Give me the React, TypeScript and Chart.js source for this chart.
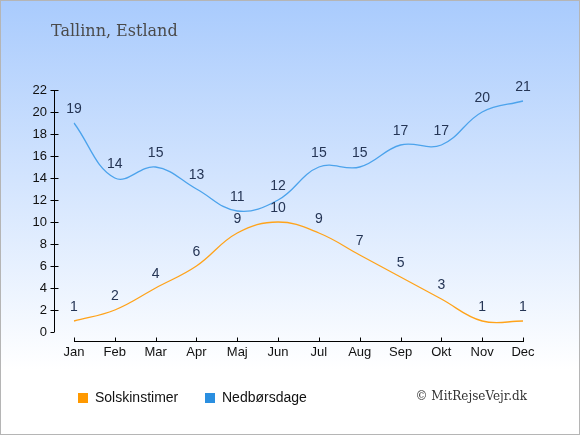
import { useEffect, useRef } from "react"
import { Chart, registerables } from "chart.js"

Chart.register(...registerables)

const months = ["Jan", "Feb", "Mar", "Apr", "Maj", "Jun", "Jul", "Aug", "Sep", "Okt", "Nov", "Dec"]
const sunHours = [1, 2, 4, 6, 9, 10, 9, 7, 5, 3, 1, 1]
const rainDays = [19, 14, 15, 13, 11, 12, 15, 15, 17, 17, 20, 21]
const yTicks = { min: 0, max: 22, step: 2 }

const chartTitle = "Tallinn, Estland"
const credit = "© MitRejseVejr.dk"
const sunColor = "#ffa31a"
const sunLegend = "#ff9900"
const rainColor = "#4ca3ec"
const rainLegend = "#2b8fe0"

const SANS = "'Liberation Sans', Arial, sans-serif"
const SERIF = "'DejaVu Serif', serif"

// baggrund, akser, etiketter og forklaring
const decorations = {
  id: "decorations",
  beforeDraw(chart: Chart) {
    const { ctx, width, height } = chart
    const g = ctx.createLinearGradient(0, 0, 0, height)
    g.addColorStop(0, "#a9cbfd")
    g.addColorStop(0.85, "#ffffff")
    g.addColorStop(1, "#ffffff")
    ctx.save()
    ctx.fillStyle = g
    ctx.fillRect(0, 0, width, height)
    ctx.strokeStyle = "#b5b5b5"
    ctx.lineWidth = 1
    ctx.strokeRect(0.5, 0.5, width - 1, height - 1)

    ctx.fillStyle = "#4a4a4a"
    ctx.font = `16px ${SERIF}`
    ctx.textBaseline = "middle"
    ctx.fillText(chartTitle, 51, 32)

    // akser
    const x = chart.scales.x
    const y = chart.scales.y
    ctx.strokeStyle = "#000"
    ctx.beginPath()
    const ax = 54.5
    ctx.moveTo(ax, y.getPixelForValue(yTicks.max))
    ctx.lineTo(ax, y.getPixelForValue(yTicks.min))
    for (let v = yTicks.min; v <= yTicks.max; v += yTicks.step) {
      const py = Math.round(y.getPixelForValue(v)) + 0.5
      ctx.moveTo(ax - 4, py)
      ctx.lineTo(ax + (v === yTicks.min ? 0 : 4), py)
    }
    const by = Math.round(y.getPixelForValue(yTicks.min)) + 9.5
    const x0 = x.getPixelForValue(0)
    const x1 = x.getPixelForValue(months.length - 1)
    ctx.moveTo(x0, by)
    ctx.lineTo(x1 + 1, by)
    months.forEach((_, i) => {
      const px = Math.round(x.getPixelForValue(i)) + 0.5
      ctx.moveTo(px, by - 4)
      ctx.lineTo(px, by)
    })
    ctx.stroke()

    // forklaring
    const ly = 398
    ctx.font = `14px ${SANS}`
    ctx.textBaseline = "middle"
    ctx.fillStyle = sunLegend
    ctx.fillRect(78, ly - 5, 10, 10)
    ctx.fillStyle = "#111"
    ctx.fillText("Solskinstimer", 95, ly)
    ctx.fillStyle = rainLegend
    ctx.fillRect(205, ly - 5, 10, 10)
    ctx.fillStyle = "#111"
    ctx.fillText("Nedbørsdage", 222, ly)

    ctx.font = `12px ${SERIF}`
    ctx.fillStyle = "#333"
    ctx.textAlign = "right"
    ctx.fillText(credit, 527, 397)
    ctx.restore()
  },
  afterDatasetsDraw(chart: Chart) {
    const { ctx } = chart
    ctx.save()
    ctx.font = `14px ${SANS}`
    ctx.fillStyle = "#253555"
    ctx.textAlign = "center"
    ctx.textBaseline = "middle"
    chart.data.datasets.forEach((ds, di) => {
      const meta = chart.getDatasetMeta(di)
      meta.data.forEach((pt, i) => {
        ctx.fillText(String(ds.data[i]), pt.x, pt.y - 14)
      })
    })
    ctx.restore()
  },
}

export default function App() {
  const canvasRef = useRef<HTMLCanvasElement>(null)
  const chartRef = useRef<Chart | null>(null)

  useEffect(() => {
    document.body.style.margin = "0"
    if (!canvasRef.current) return
    if (chartRef.current) chartRef.current.destroy()

    chartRef.current = new Chart(canvasRef.current, {
      type: "line",
      data: {
        labels: months,
        datasets: [
          {
            label: "Solskinstimer",
            data: sunHours,
            borderColor: sunColor,
            borderWidth: 1.3,
            pointRadius: 0,
            tension: 0.4,
            fill: false,
          },
          {
            label: "Nedbørsdage",
            data: rainDays,
            borderColor: rainColor,
            borderWidth: 1.3,
            pointRadius: 0,
            tension: 0.4,
            fill: false,
          },
        ],
      },
      options: {
        responsive: false,
        animation: false,
        layout: { padding: { left: 33, right: 57, top: 90, bottom: 74 } },
        plugins: {
          legend: { display: false },
          tooltip: { enabled: false },
        },
        scales: {
          x: {
            grid: { display: false, drawTicks: false },
            border: { display: false },
            ticks: { color: "#111", font: { family: SANS, size: 13 }, padding: 13, maxRotation: 0, autoSkip: false },
            afterFit: (s) => {
              s.height = 29
            },
          },
          y: {
            min: yTicks.min,
            max: yTicks.max,
            grid: { display: false, drawTicks: false },
            border: { display: false },
            ticks: { stepSize: yTicks.step, color: "#111", font: { family: SANS, size: 13 }, padding: 27 },
            afterFit: (s) => {
              s.width = 41
            },
          },
        },
      },
      plugins: [decorations],
    })

    return () => {
      chartRef.current?.destroy()
      chartRef.current = null
    }
  }, [])

  return (
    <div style={{ width: 580, height: 435 }}>
      <canvas ref={canvasRef} width={580} height={435}></canvas>
    </div>
  )
}
